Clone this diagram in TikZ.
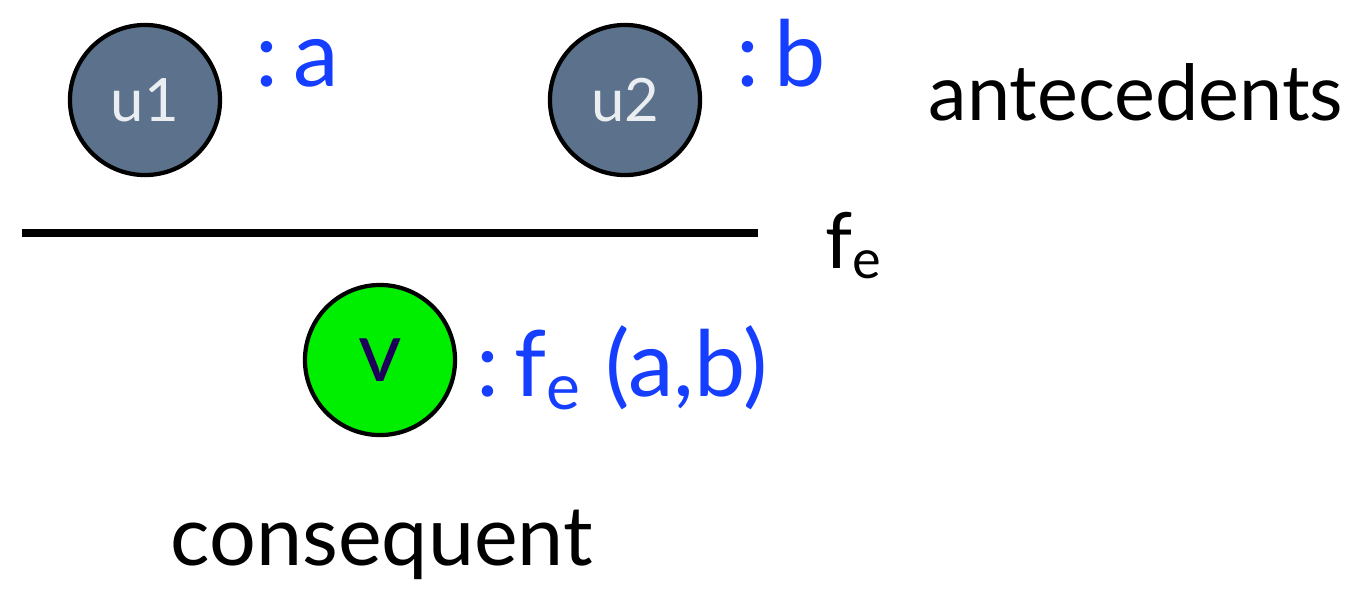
\documentclass[tikz,border=0pt]{standalone}
\usepackage{fontspec}
\setmainfont{Lato}
\usetikzlibrary{positioning}
\definecolor{termblue}{RGB}{22,62,255}
\definecolor{slate}{RGB}{92,113,140}
\definecolor{vgreen}{RGB}{0,238,0}
\definecolor{vtext}{RGB}{30,0,90}
\tikzset{
  vertex/.style={circle, draw=black, line width=1.2pt, minimum size=1.5cm, inner sep=0pt, font=\fontsize{17}{17}\selectfont},
  term/.style={anchor=base west, inner sep=0pt, text=termblue, font=\fontsize{26}{26}\selectfont},
  caption/.style={anchor=base west, inner sep=0pt, font=\fontsize{22}{22}\selectfont}
}
\begin{document}
\begin{tikzpicture}[x=0.01cm, y=-0.01cm]
    \useasboundingbox (0,0) rectangle (1349,593);

    % antecedents
    \node[vertex, fill=slate, text=white!88!slate] (u1) at (145,100) {\raisebox{-0.3em}{u1}};
    \node[vertex, fill=slate, text=white!88!slate] (u2) at (625,100) {\raisebox{-0.3em}{u2}};
    \node[term] (ta) at (255,86) {:\,a};
    \node[term] (tb) at (736,86) {:\,b};
    \node[caption] (ante) at (928,120) {antecedents};

    % rule
    \coordinate (rl) at (22,233);
    \coordinate (rr) at (758,233);
    \draw[line width=2pt] (rl) -- (rr);
    \node[caption] (fe) at (825,268) {f\textsubscript{e}};

    % consequent
    \node[vertex, fill=vgreen, text=vtext, font=\fontsize{24}{24}\selectfont] (v) at (380,360) {\raisebox{-0.2em}{v}};
    \node[term] (tv) at (476,396) {:\,f\textsubscript{e} (a,b)};
    \node[caption, font=\fontsize{23.5}{23.5}\selectfont] (cons) at (170,565) {consequent};
\end{tikzpicture}
\end{document}
